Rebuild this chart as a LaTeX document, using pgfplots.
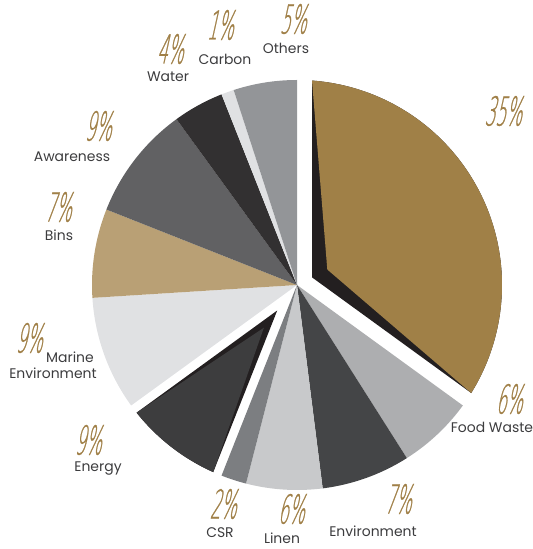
\documentclass[border=0pt]{standalone}
\usepackage{fontspec}
\usepackage{pgfplots}
\usepackage{pgfplotstable}
\pgfplotsset{compat=1.18}
\setmainfont{Poppins}
\newfontfamily\pctfont{DejaVu Sans ExtraLight}[FakeSlant=0.22,FakeStretch=0.42,FakeBold=0.6]

\definecolor{cGold}{HTML}{A08047}
\definecolor{cDark}{HTML}{231F20}
\definecolor{cFW}{HTML}{ADAEB0}
\definecolor{cEnv}{HTML}{444547}
\definecolor{cLinen}{HTML}{C8C9CB}
\definecolor{cCSR}{HTML}{7C7E81}
\definecolor{cEnergy}{HTML}{3D3D3E}
\definecolor{cMarine}{HTML}{E0E1E3}
\definecolor{cBins}{HTML}{B9A075}
\definecolor{cAware}{HTML}{616163}
\definecolor{cWater}{HTML}{323031}
\definecolor{cCarbon}{HTML}{E0E1E3}
\definecolor{cOthers}{HTML}{939598}
\definecolor{cPct}{HTML}{A08048}
\definecolor{cName}{HTML}{3C3C3E}

% value in percent; gap = inset of exploded slice; apex = shift of coloured apex
\pgfplotstableread{
name value color gap apex
FoodWaste35 35 cGold 15 34
FoodWaste 6 cFW 0 0
Environment 7 cEnv 0 0
Linen 6 cLinen 0 0
CSR 2 cCSR 0 0
Energy 9 cEnergy 9 54
Marine 9 cMarine 0 0
Bins 7 cBins 0 0
Awareness 9 cAware 0 0
Water 4 cWater 0 0
Carbon 1 cCarbon 0 0
Others 5 cOthers 0 0
}\piedata

\newcommand{\pct}[1]{{\pctfont\fontsize{40}{40}\selectfont\color{cPct}#1}}
\newcommand{\nm}[1]{{\fontsize{14}{16}\selectfont\color{cName}#1}}

\begin{document}
\begin{tikzpicture}
\begin{axis}[
  at={(0,0)}, anchor=south west,
  scale only axis, width=533bp, height=549bp,
  xmin=-297, xmax=236, ymin=-264, ymax=285,
  hide axis, clip=false,
]
\pgfplotstablegetrowsof{\piedata}
\pgfmathtruncatemacro\nrows{\pgfplotsretval-1}
\def\cum{0}
\pgfplotsforeachungrouped \i in {0,...,\nrows}{%
  \pgfplotstablegetelem{\i}{value}\of\piedata \let\slval\pgfplotsretval
  \pgfplotstablegetelem{\i}{color}\of\piedata \let\slcol\pgfplotsretval
  \pgfplotstablegetelem{\i}{gap}\of\piedata \let\slgap\pgfplotsretval
  \pgfplotstablegetelem{\i}{apex}\of\piedata \let\slapex\pgfplotsretval
  \pgfmathsetmacro\aend{90-3.6*\cum}
  \pgfmathsetmacro\astart{\aend-3.6*\slval}
  \pgfmathsetmacro\amid{(\astart+\aend)/2}
  \pgfmathsetmacro\half{1.8*\slval}
  \pgfmathsetmacro\dd{\slgap/sin(\half)}
  \pgfmathsetmacro\del{asin(\slgap/205)}
  \pgfmathsetmacro\aa{\astart+\del}
  \pgfmathsetmacro\bb{\aend-\del}
  \pgfmathsetmacro\px{\dd*cos(\amid)}
  \pgfmathsetmacro\py{\dd*sin(\amid)}
  \pgfmathsetmacro\qx{\slapex*cos(\amid)}
  \pgfmathsetmacro\qy{\slapex*sin(\amid)}
  \ifdim\slgap pt>0pt
    \edef\cmd{%
      \noexpand\fill[fill=cDark] (axis cs:\px,\py) -- plot[domain=\aa:\bb,samples=80] ({205*cos(\noexpand\x)},{205*sin(\noexpand\x)}) -- cycle;
      \noexpand\fill[fill=\slcol] (axis cs:\qx,\qy) -- plot[domain=\aa:\bb,samples=80] ({205*cos(\noexpand\x)},{205*sin(\noexpand\x)}) -- cycle;}%
  \else
    \edef\cmd{%
      \noexpand\fill[fill=\slcol] (axis cs:0,0) -- plot[domain=\astart:\aend,samples=60] ({205*cos(\noexpand\x)},{205*sin(\noexpand\x)}) -- cycle;}%
  \fi
  \cmd
  \pgfmathsetmacro\cum{\cum+\slval}%
}

% labels
\node[inner sep=0] at (axis cs:206,174) {\pct{35\%}};
\node[inner sep=0] at (axis cs:212,-114) {\pct{6\%}};
\node[inner sep=0] at (axis cs:195,-142) {\nm{Food Waste}};
\node[inner sep=0] at (axis cs:101,-214) {\pct{7\%}};
\node[inner sep=0] at (axis cs:76,-246) {\nm{Environment}};
\node[inner sep=0] at (axis cs:-6,-224) {\pct{6\%}};
\node[inner sep=0] at (axis cs:-15,-253) {\nm{Linen}};
\node[inner sep=0] at (axis cs:-74,-219) {\pct{2\%}};
\node[inner sep=0] at (axis cs:-77,-248) {\nm{CSR}};
\node[inner sep=0] at (axis cs:-209,-155) {\pct{9\%}};
\node[inner sep=0] at (axis cs:-199,-184) {\nm{Energy}};
\node[inner sep=0] at (axis cs:-268,-53) {\pct{9\%}};
\node[inner sep=0] at (axis cs:-227,-72) {\nm{Marine}};
\node[inner sep=0] at (axis cs:-244,-88) {\nm{Environment}};
\node[inner sep=0] at (axis cs:-239,78) {\pct{7\%}};
\node[inner sep=0] at (axis cs:-238,50) {\nm{Bins}};
\node[inner sep=0] at (axis cs:-199,159) {\pct{9\%}};
\node[inner sep=0] at (axis cs:-225,128) {\nm{Awareness}};
\node[inner sep=0] at (axis cs:-127,236) {\pct{4\%}};
\node[inner sep=0] at (axis cs:-129,208) {\nm{Water}};
\node[inner sep=0] at (axis cs:-77,260) {\pct{1\%}};
\node[inner sep=0] at (axis cs:-72,226) {\nm{Carbon}};
\node[inner sep=0] at (axis cs:-4,266) {\pct{5\%}};
\node[inner sep=0] at (axis cs:-11,237) {\nm{Others}};
\end{axis}
\pgfresetboundingbox
\useasboundingbox (0,0) rectangle (533bp,549bp);
\end{tikzpicture}
\end{document}
